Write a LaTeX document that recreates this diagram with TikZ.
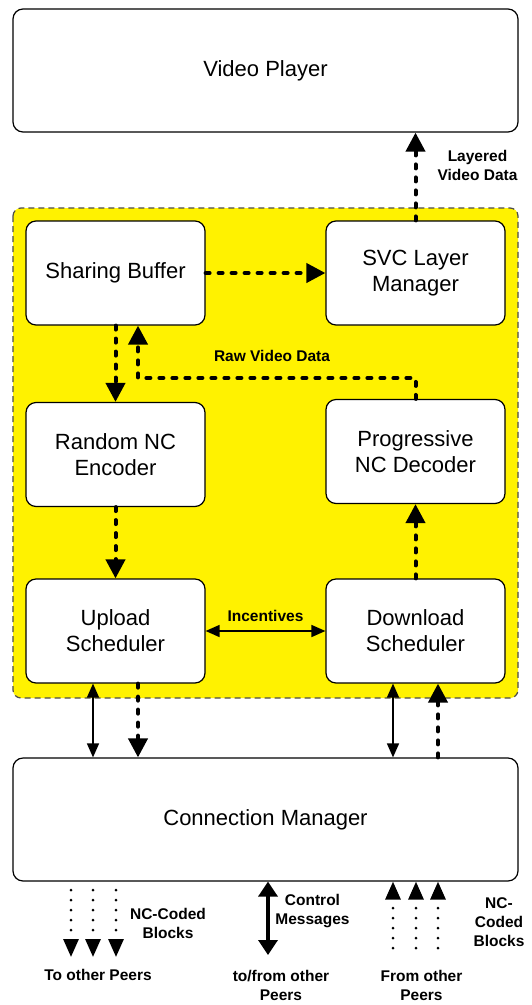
\documentclass[tikz,border=0pt]{standalone}
\usepackage{fontspec}
\setmainfont{Liberation Sans}
\usetikzlibrary{arrows.meta,calc}
\begin{document}
\begin{tikzpicture}[x=1pt,y=-1pt,
 box/.style={draw=black,line width=1.2pt,rounded corners=10pt,fill=white,minimum width=179pt,minimum height=104pt,align=center,font=\fontsize{22}{26}\selectfont,inner sep=0pt},
 bigbox/.style={box,minimum width=505pt,minimum height=123pt},
 lbl/.style={font=\fontsize{15.5}{19}\selectfont\bfseries,align=center,inner sep=0pt},
 dflow/.style={line width=4pt,line cap=round,dash pattern=on 4pt off 9pt,-{Triangle[length=19pt,width=19pt]}},
 thinboth/.style={line width=1.5pt,{Triangle[length=14pt,width=12pt]}-{Triangle[length=14pt,width=12pt]}},
 thickboth/.style={line width=3.5pt,{Triangle[length=15pt,width=19pt]}-{Triangle[length=15pt,width=19pt]}},
 dotflow/.style={line width=3pt,line cap=round,dash pattern=on 0pt off 10pt,-{Triangle[length=18pt,width=15pt]}}
]
\useasboundingbox (0,0) rectangle (531,1005);
\draw[draw=black!70,dash pattern=on 6pt off 4pt,line width=1.2pt,fill=yellow,rounded corners=8pt] (13,208) rectangle (518,698);

\node[bigbox] (vp) at (265.5,70.5) {Video Player};
\node[box] (sb) at (115.5,273) {Sharing Buffer};
\node[box] (svc) at (415.5,273) {SVC Layer\\Manager};
\node[box] (rne) at (115.5,454.5) {Random NC\\Encoder};
\node[box] (pnd) at (415.5,451.5) {Progressive\\NC Decoder};
\node[box] (us) at (115.5,631) {Upload\\Scheduler};
\node[box] (ds) at (415.5,631) {Download\\Scheduler};
\node[bigbox] (cm) at (265.5,819.5) {Connection Manager};

% dashed data flows
\draw[dflow] (svc.north) -- (svc.north |- vp.south);
\draw[dflow] (sb.east) -- (svc.west);
\draw[dflow] (sb.south) -- (rne.north);
\coordinate (rv) at (138,378);
\draw[dflow] (pnd.north) |- (rv) -- (rv |- sb.south);
\draw[dflow] (rne.south) -- (us.north);
\draw[dflow] (ds.north) -- (pnd.south);
\draw[dflow] ([xshift=22.5pt]us.south) -- ([xshift=22.5pt]us.south |- cm.north);
\draw[dflow] ([xshift=22.5pt]ds.south |- cm.north) -- ([xshift=22.5pt]ds.south);

% solid double arrows
\draw[thinboth] (us.east) -- (ds.east -| ds.west);
\draw[thinboth] ([xshift=-22.5pt]us.south) -- ([xshift=-22.5pt]us.south |- cm.north);
\draw[thinboth] ([xshift=-22.5pt]ds.south) -- ([xshift=-22.5pt]ds.south |- cm.north);

% bottom flows
\coordinate (ctl) at (268,955);
\draw[thickboth] (ctl |- cm.south) -- (ctl);
\foreach \x/\n in {71/a,93/b,116/c}{
  \coordinate (o\n) at (\x,890);
  \coordinate (t\n) at (\x,957);
  \draw[dotflow] (o\n) -- (t\n);
}
\foreach \x/\n in {393/a,416/b,438/c}{
  \coordinate (f\n) at (\x,948);
  \draw[dotflow] (f\n) -- (f\n |- cm.south);
}

% labels
\node[lbl] (l1) at (477.5,165) {Layered\\Video Data};
\node[lbl] (l2) at (272,356) {Raw Video Data};
\node[lbl] (l3) at (265.5,616) {Incentives};
\node[lbl] (l4) at (168,923.5) {NC-Coded\\Blocks};
\node[lbl] (l5) at (312.5,911.5) {Control\\Messages};
\node[lbl] (l6) at (499,922.5) {NC-\\Coded\\Blocks};
\node[lbl] (l7) at (98,975) {To other Peers};
\node[lbl] (l8) at (281,985) {to/from other\\Peers};
\node[lbl] (l9) at (421.5,985) {From other\\Peers};
\end{tikzpicture}
\end{document}
